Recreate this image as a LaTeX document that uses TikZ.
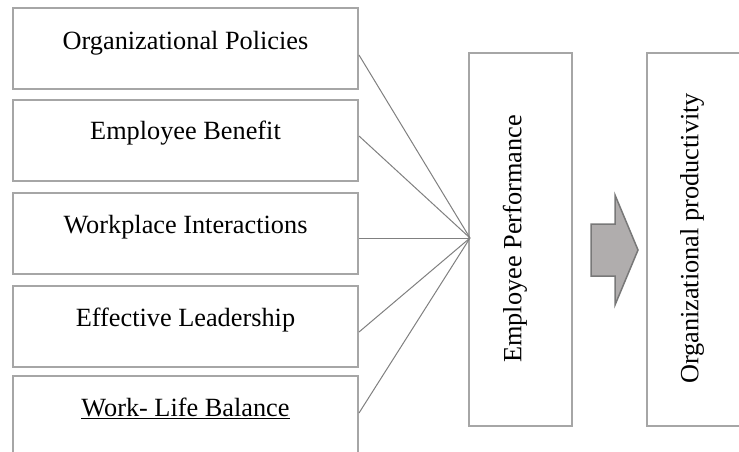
\documentclass[tikz,border=0pt]{standalone}
\usepackage{fontspec}
\setmainfont{Liberation Serif}
\usetikzlibrary{calc}
\definecolor{boxgray}{RGB}{166,166,166}
\definecolor{linegray}{RGB}{128,128,128}
\definecolor{arrowfill}{RGB}{176,173,173}
\definecolor{arrowedge}{RGB}{120,120,120}
\begin{document}
\begin{tikzpicture}[x=1pt,y=-1pt,
  box/.style={draw=boxgray,line width=2pt,rectangle,inner sep=0pt,minimum width=345pt,minimum height=81pt},
  vbox/.style={draw=boxgray,line width=2pt,rectangle,inner sep=0pt,minimum width=103pt,minimum height=373pt},
  lab/.style={anchor=base,inner sep=0pt,font=\fontsize{26.3}{30}\selectfont},
  vlab/.style={rotate=90,anchor=center,inner sep=0pt,font=\fontsize{26.3}{30}\selectfont},
  conn/.style={draw=linegray,line width=1pt},
  blockarrow/.style={draw=arrowedge,fill=arrowfill,line width=1.5pt,line join=miter}]
\useasboundingbox (0,0) rectangle (739,452);
\clip (0,0) rectangle (739,452);
\fill[white] (0,0) rectangle (739,452);
% left boxes
\node[box] (b1) at (185.5,48.5) {};
\node[box] (b2) at (185.5,140.5) {};
\node[box] (b3) at (185.5,233.5) {};
\node[box] (b4) at (185.5,326.5) {};
\node[box] (b5) at (185.5,416.5) {};
\node[lab] (t1) at (185.5,49) {Organizational Policies};
\node[lab] (t2) at (185.5,139) {Employee Benefit};
\node[lab] (t3) at (185.5,233) {Workplace Interactions};
\node[lab] (t4) at (185.5,326) {Effective Leadership};
\node[lab] (t5) at (185.5,416) {\underline{Work- Life Balance}};
% right boxes
\node[vbox] (ep) at (520.5,239.5) {};
\node[vbox] (op) at (698.5,239.5) {};
\node[vlab] (tep) at (515,239) {Employee Performance};
\node[vlab] (top) at (692,238.5) {Organizational productivity};
% connectors
\coordinate (hub) at (470,238);
\draw[conn] ($(b1.east)+(0,6.5)$) -- (hub);
\draw[conn] ($(b2.east)+(0,-4.5)$) -- (hub);
\draw[conn] ($(b3.east)+(0,4.5)$) -- (hub);
\draw[conn] ($(b4.east)+(0,5.5)$) -- (hub);
\draw[conn] ($(b5.east)+(0,-3.5)$) -- (hub);
% block arrow
\draw[blockarrow] (591,224) -- (615,224) -- (615,195) -- (638,250) -- (615,305) -- (615,276) -- (591,276) -- cycle;
\end{tikzpicture}
\end{document}
